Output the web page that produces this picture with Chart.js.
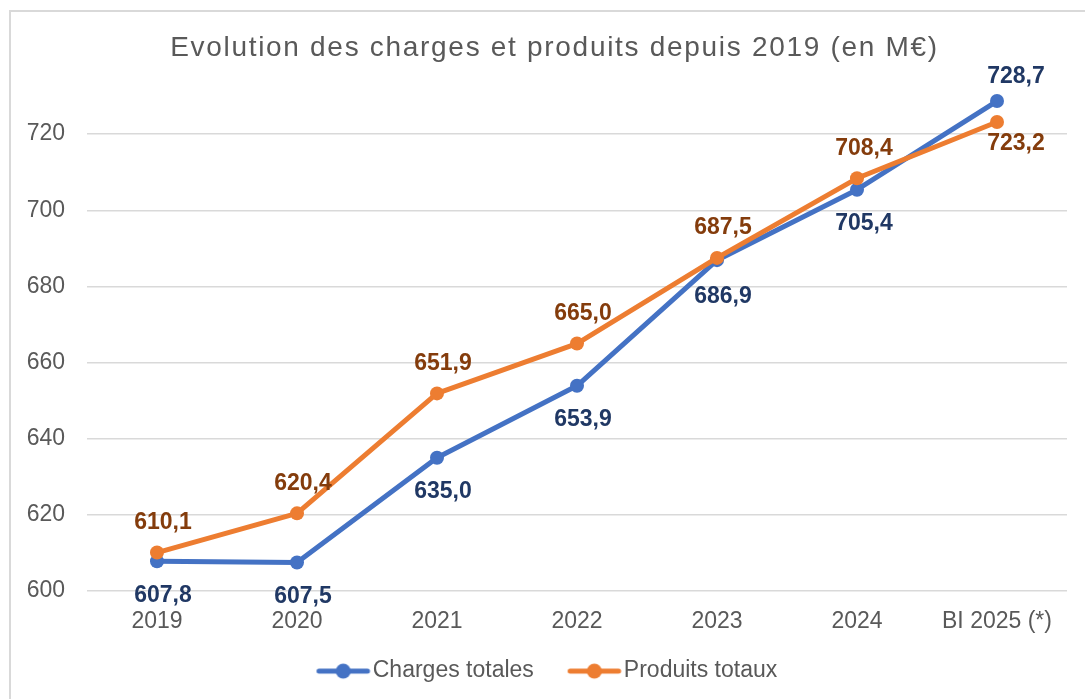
<!DOCTYPE html>
<html lang="fr">

<head>
    <meta charset="UTF-8">
    <title>Evolution des charges et produits</title>
    <script src="https://cdn.jsdelivr.net/npm/chart.js"></script>
    <style>
        body { margin: 0; background: #ffffff; overflow: hidden; }
        .cadre { position: absolute; left: 9px; top: 10px; width: 1200px; height: 800px; border: 2px solid #d9d9d9; }
        .graph { position: absolute; left: 0; top: 0; width: 1085px; height: 699px; }
    </style>
</head>

<body>
    <div class="cadre"></div>
    <div class="graph">
        <canvas id="grafico" width="1085" height="699"></canvas>
    </div>

    <script>
        // données (M€)
        var annees = ['2019', '2020', '2021', '2022', '2023', '2024', 'BI 2025 (*)'];
        var charges = [607.8, 607.5, 635.0, 653.9, 686.9, 705.4, 728.7];
        var produits = [610.1, 620.4, 651.9, 665.0, 687.5, 708.4, 723.2];
        var ticksY = [600, 620, 640, 660, 680, 700, 720];

        // placement des étiquettes (px) : vertical, négatif = au-dessus
        var decalCharges = [34, 34, 34, 34, 36, 34, -24];
        var decalProduits = [-30, -30, -30, -30, -30, -30, 22];
        var decalX = [6, 6, 6, 6, 6, 7, 19];

        var bleu = '#4472C4';
        var orange = '#ED7D31';
        var gris = '#595959';

        Chart.defaults.font.family = "'Liberation Sans', Arial, sans-serif";
        Chart.defaults.color = gris;

        function fr(v) {
            return v.toFixed(1).replace('.', ',');
        }

        // petite icone de légende : trait + rond
        function iconeLegende(couleur) {
            var c = document.createElement('canvas');
            c.width = 94;
            c.height = 18;
            var g = c.getContext('2d');
            g.strokeStyle = couleur;
            g.lineWidth = 5;
            g.lineCap = 'round';
            g.beginPath();
            g.moveTo(40.5, 9);
            g.lineTo(89, 9);
            g.stroke();
            g.fillStyle = couleur;
            g.beginPath();
            g.arc(64.75, 9, 7.5, 0, Math.PI * 2);
            g.fill();
            return c;
        }

        var etiquettes = {
            id: 'etiquettes',
            afterDatasetsDraw: function (chart) {
                var ctx = chart.ctx;
                ctx.save();
                ctx.font = "bold 23px 'Liberation Sans', Arial, sans-serif";
                ctx.textAlign = 'center';
                ctx.textBaseline = 'middle';
                chart.data.datasets.forEach(function (ds, d) {
                    var meta = chart.getDatasetMeta(d);
                    meta.data.forEach(function (pt, i) {
                        ctx.fillStyle = ds.couleurEtiquette;
                        ctx.fillText(fr(ds.data[i]), pt.x + decalX[i], pt.y + ds.decal[i]);
                    });
                });
                ctx.restore();
            }
        };

        // espacement des lettres du titre (et recentrage sur le cadre)
        var titreEspace = {
            id: 'titreEspace',
            beforeDraw: function (chart) {
                var tb = chart.titleBlock;
                if (!tb || tb._espace) return;
                var orig = tb.draw;
                tb.draw = function (area) {
                    var c = this.ctx;
                    c.save();
                    c.letterSpacing = '1.7px';
                    c.translate(21, 1);
                    orig.call(this, area);
                    c.restore();
                };
                tb._espace = true;
            }
        };

        const ctx = document.getElementById('grafico').getContext('2d');
        const grafico = new Chart(ctx, {
            type: 'line',
            data: {
                labels: annees,
                datasets: [{
                    label: 'Charges totales',
                    data: charges,
                    borderColor: bleu,
                    backgroundColor: bleu,
                    pointBackgroundColor: bleu,
                    pointBorderColor: bleu,
                    couleurEtiquette: '#203864',
                    decal: decalCharges,
                    order: 1
                }, {
                    label: 'Produits totaux',
                    data: produits,
                    borderColor: orange,
                    backgroundColor: orange,
                    pointBackgroundColor: orange,
                    pointBorderColor: orange,
                    couleurEtiquette: '#843C0C',
                    decal: decalProduits,
                    order: 0
                }]
            },
            options: {
                responsive: false,
                animation: false,
                events: [],
                layout: {
                    padding: { left: 0, right: 18, top: 0, bottom: 6.4 }
                },
                elements: {
                    line: { borderWidth: 5, tension: 0, borderJoinStyle: 'round', borderCapStyle: 'round' },
                    point: { radius: 7, borderWidth: 0, pointStyle: 'circle' }
                },
                plugins: {
                    title: {
                        display: true,
                        text: 'Evolution des charges et produits depuis 2019 (en M€)',
                        color: gris,
                        font: { size: 28, weight: 'normal', lineHeight: 1 },
                        padding: { top: 33, bottom: -3 }
                    },
                    legend: {
                        position: 'bottom',
                        labels: {
                            usePointStyle: true,
                            pointStyleWidth: 71.5,
                            padding: 7,
                            color: gris,
                            font: { size: 23 },
                            sort: function (a, b) { return a.datasetIndex - b.datasetIndex; },
                            generateLabels: function (chart) {
                                var items = Chart.defaults.plugins.legend.labels.generateLabels(chart);
                                items.forEach(function (it) {
                                    var ds = chart.data.datasets[it.datasetIndex];
                                    it.pointStyle = iconeLegende(ds.borderColor);
                                });
                                return items;
                            }
                        }
                    },
                    tooltip: { enabled: false }
                },
                scales: {
                    x: {
                        offset: true,
                        grid: { display: false, drawTicks: false },
                        border: { display: false },
                        ticks: { color: gris, font: { size: 23 }, padding: 17, maxRotation: 0 }
                    },
                    y: {
                        min: 600,
                        max: 740,
                        afterBuildTicks: function (s) {
                            s.ticks = ticksY.map(function (v) { return { value: v }; });
                        },
                        afterFit: function (s) {
                            s.width = 87;
                        },
                        grid: { color: '#d9d9d9', lineWidth: 1.5, drawTicks: false },
                        border: { display: false },
                        ticks: { color: gris, font: { size: 23 }, padding: 22 }
                    }
                }
            },
            plugins: [etiquettes, titreEspace]
        });
    </script>

</body>

</html>
